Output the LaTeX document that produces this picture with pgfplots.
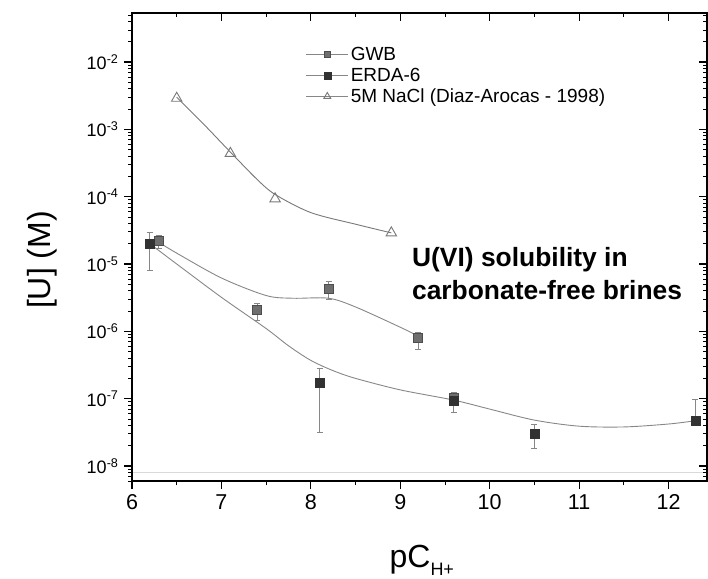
\documentclass[border=0pt]{standalone}
\usepackage{fontspec}
\setmainfont{Liberation Sans}
\usepackage{pgfplots}
\pgfplotsset{compat=1.18}
\definecolor{fitgray}{RGB}{135,135,135}
\definecolor{gwbgray}{RGB}{110,110,110}
\definecolor{erdablack}{RGB}{50,50,50}
\definecolor{naclgray}{RGB}{120,120,120}

\begin{document}
\begin{tikzpicture}
\useasboundingbox (-132pt,-97pt) rectangle (576pt,481pt);
\begin{axis}[
    name=ax,
    scale only axis,
    width=575pt, height=468pt,
    xmin=6, xmax=12.43,
    ymode=log, ymin=5.98e-9, ymax=0.0535,
    xtick={6,7,8,9,10,11,12},
    minor x tick num=1,
    ytick={1e-8,1e-7,1e-6,1e-5,1e-4,1e-3,1e-2},
    yticklabels={10\textsuperscript{-8},10\textsuperscript{-7},10\textsuperscript{-6},10\textsuperscript{-5},10\textsuperscript{-4},10\textsuperscript{-3},10\textsuperscript{-2}},
    minor ytick={6e-9,7e-9,8e-9,9e-9,2e-8,3e-8,4e-8,5e-8,6e-8,7e-8,8e-8,9e-8,2e-7,3e-7,4e-7,5e-7,6e-7,7e-7,8e-7,9e-7,2e-6,3e-6,4e-6,5e-6,6e-6,7e-6,8e-6,9e-6,2e-5,3e-5,4e-5,5e-5,6e-5,7e-5,8e-5,9e-5,2e-4,3e-4,4e-4,5e-4,6e-4,7e-4,8e-4,9e-4,2e-3,3e-3,4e-3,5e-3,6e-3,7e-3,8e-3,9e-3,2e-2,3e-2,4e-2,5e-2},
    xtick pos=left, ytick pos=left,
    tick align=outside,
    major tick length=8pt, minor tick length=4pt,
    tick style={black, line width=1.2pt},
    minor tick style={line width=0.8pt},
    axis line style={line width=1.6pt},
    /pgf/number format/assume math mode=true,
    xticklabel style={font=\fontsize{21.5}{24}\selectfont, yshift=-2pt},
    yticklabel style={font=\fontsize{18}{20}\selectfont, xshift=-2pt},
    xlabel={pC\raisebox{-8pt}{\fontsize{18}{18}\selectfont H+}},
    xlabel style={font=\fontsize{32}{36}\selectfont, at={(axis description cs:0.504,-0.1838)}, anchor=base},
    ylabel={[U] (M)},
    ylabel style={font=\fontsize{32}{36}\selectfont, at={(axis description cs:-0.1426,0.472)}, anchor=base},
    legend style={at={(axis description cs:0.302,0.9315)}, anchor=north west, draw=none, fill=none,
        font=\fontsize{19}{22}\selectfont, inner sep=0pt, row sep=2pt, cells={anchor=west}},
    legend cell align=left,
    error bars/error bar style={fitgray, line width=0.9pt},
    error bars/error mark options={fitgray, rotate=90, mark size=3pt, line width=0.9pt},
]
% faint scan line near the bottom
\addplot[gray!30, line width=0.6pt, forget plot] coordinates {(6,8.1e-9) (12.43,8.1e-9)};

% fitted curves
\addplot[naclgray, line width=0.9pt, smooth, forget plot] coordinates {
    (6.5,3.0e-3) (6.8,1.2e-3) (7.1,4.6e-4) (7.4,1.8e-4) (7.6,1.08e-4)
    (8.0,5.8e-5) (8.5,3.9e-5) (8.9,2.9e-5)};
\addplot[fitgray, line width=0.9pt, smooth, forget plot] coordinates {
    (6.3,2.1e-5) (6.5,1.45e-5) (7.0,6.2e-6) (7.5,3.4e-6) (7.8,3.1e-6)
    (8.2,3.1e-6) (8.5,2.3e-6) (9.0,1.15e-6) (9.2,8.5e-7)};
\addplot[fitgray, line width=0.9pt, smooth, forget plot] coordinates {
    (6.2,2.0e-5) (6.5,1.0e-5) (7.0,3.2e-6) (7.5,1.1e-6) (7.75,6.1e-7)
    (8.0,3.7e-7) (8.25,2.6e-7) (8.5,2.0e-7) (9.0,1.35e-7) (9.6,9.5e-8)
    (10.0,7.0e-8) (10.5,4.8e-8) (11.0,3.9e-8) (11.5,3.8e-8) (12.0,4.2e-8)
    (12.3,4.7e-8)};

% GWB
\addplot[only marks, mark=square*, mark size=4.5pt, mark options={fill=gwbgray, draw=gwbgray!70!black},
    legend image code/.code={\draw[fitgray, line width=0.9pt] (0pt,0pt) -- (42pt,0pt);
        \draw[mark size=3pt] plot coordinates {(21pt,0pt)};},
    error bars/.cd, y dir=both, y explicit]
    coordinates {
    (6.3,2.2e-5) += (0,0.5e-5) -= (0,0.5e-5)
    (7.4,2.1e-6) += (0,0.5e-6) -= (0,0.65e-6)
    (8.2,4.3e-6) += (0,1.3e-6) -= (0,1.3e-6)
    (9.2,8.0e-7) += (0,1.5e-7) -= (0,2.6e-7)
    (9.6,1.05e-7) += (0,2e-8) -= (0,2e-8)};
\addlegendentry{GWB}

% ERDA-6
\addplot[only marks, mark=square*, mark size=4.5pt, mark options={fill=erdablack, draw=erdablack},
    legend image code/.code={\draw[fitgray, line width=0.9pt] (0pt,0pt) -- (42pt,0pt);
        \draw[mark size=3.5pt] plot coordinates {(21pt,0pt)};},
    error bars/.cd, y dir=both, y explicit]
    coordinates {
    (6.2,2.0e-5) += (0,0.9e-5) -= (0,1.19e-5)
    (8.1,1.7e-7) += (0,1.1e-7) -= (0,1.38e-7)
    (9.6,9.3e-8) += (0,3e-8) -= (0,3e-8)
    (10.5,3.0e-8) += (0,1.1e-8) -= (0,1.2e-8)
    (12.3,4.7e-8) += (0,5.1e-8) -= (0,0.5e-8)};
\addlegendentry{ERDA-6}

% 5M NaCl
\addplot[only marks, mark=triangle, mark size=6pt, mark options={draw=naclgray, fill=white, line width=0.9pt},
    legend image code/.code={\draw[fitgray, line width=0.9pt] (0pt,0pt) -- (42pt,0pt);
        \draw[mark size=4pt] plot coordinates {(21pt,0pt)};}]
    coordinates {(6.5,2.9e-3) (7.1,4.4e-4) (7.6,9.3e-5) (8.9,2.9e-5)};
\addlegendentry{5M NaCl (Diaz-Arocas - 1998)}

\node[anchor=base west, inner sep=0pt, font=\fontsize{26.4}{30}\selectfont\bfseries] at (axis cs:9.13,9.12e-6) {U(VI) solubility in};
\node[anchor=base west, inner sep=0pt, font=\fontsize{26.4}{30}\selectfont\bfseries] at (axis cs:9.13,2.92e-6) {carbonate-free brines};
\end{axis}
% mirrored top and right ticks, pointing inwards
\begin{axis}[
    scale only axis,
    width=575pt, height=468pt,
    xmin=6, xmax=12.43,
    ymode=log, ymin=5.98e-9, ymax=0.0535,
    xtick={6,7,8,9,10,11,12},
    minor x tick num=1,
    ytick={1e-8,1e-7,1e-6,1e-5,1e-4,1e-3,1e-2},
    minor ytick={6e-9,7e-9,8e-9,9e-9,2e-8,3e-8,4e-8,5e-8,6e-8,7e-8,8e-8,9e-8,2e-7,3e-7,4e-7,5e-7,6e-7,7e-7,8e-7,9e-7,2e-6,3e-6,4e-6,5e-6,6e-6,7e-6,8e-6,9e-6,2e-5,3e-5,4e-5,5e-5,6e-5,7e-5,8e-5,9e-5,2e-4,3e-4,4e-4,5e-4,6e-4,7e-4,8e-4,9e-4,2e-3,3e-3,4e-3,5e-3,6e-3,7e-3,8e-3,9e-3,2e-2,3e-2,4e-2,5e-2},
    xtick pos=right, ytick pos=right,
    xticklabels={}, yticklabels={},
    tick align=inside,
    major tick length=8pt, minor tick length=4pt,
    tick style={black, line width=1.2pt},
    minor tick style={line width=0.8pt},
    axis line style={line width=1.6pt},
]
\end{axis}
\end{tikzpicture}
\end{document}
